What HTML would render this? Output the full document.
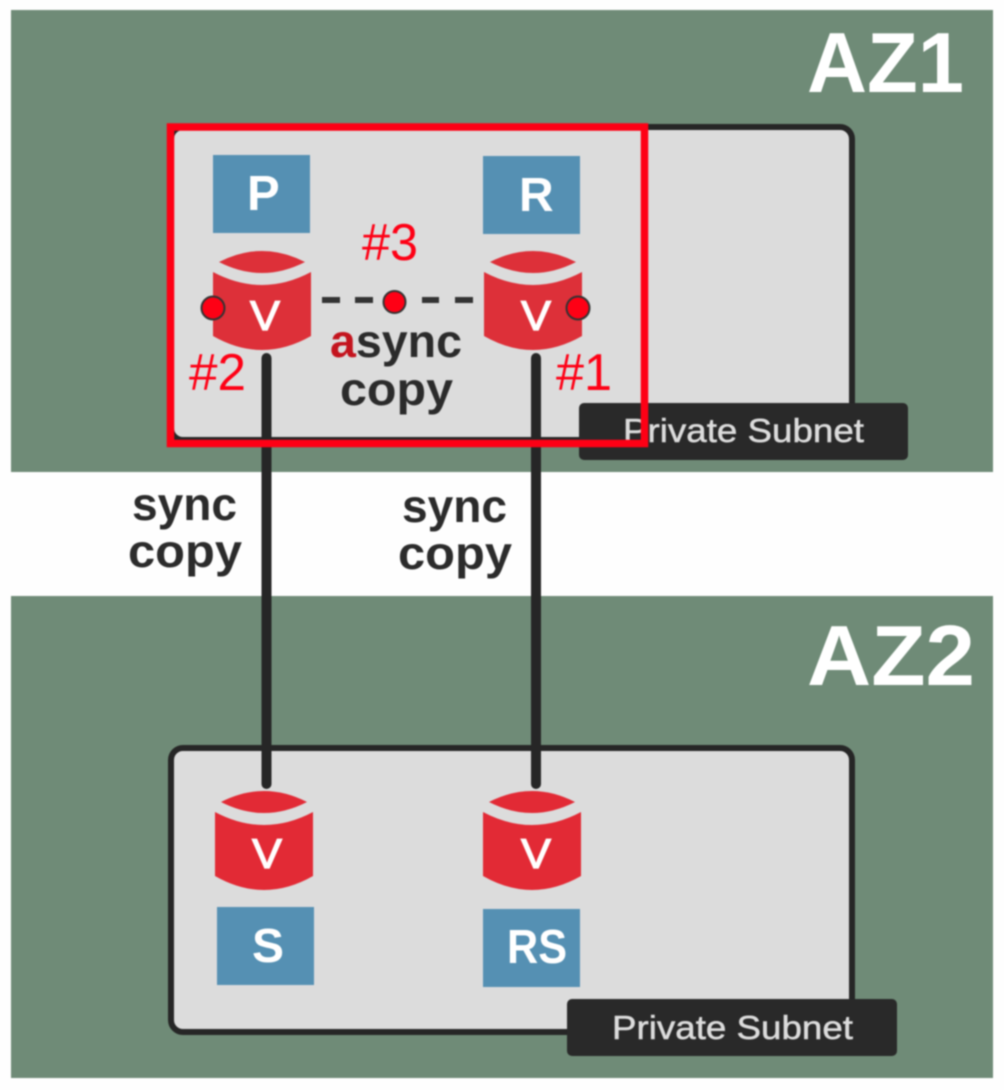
<!DOCTYPE html>
<html><head><meta charset="utf-8"><style>
html,body{margin:0;padding:0;background:#fff;width:1004px;height:1090px;overflow:hidden}
svg{display:block;filter:blur(.8px)}
text{font-family:"Liberation Sans",sans-serif}
</style></head><body>
<svg width="1004" height="1090" viewBox="0 0 1004 1090" xmlns="http://www.w3.org/2000/svg">
<defs>
<g id="cyl">
<path d="M6 12 Q49 -10 92 12 Q49 34 6 12Z"/>
<path d="M0 22 Q49 48 98 22 L98 86 Q49 114 0 86Z"/>
</g>
</defs>
<rect width="1004" height="1090" fill="#fefefe"/>
<rect x="11" y="10" width="982" height="462" fill="#6f8b77"/>
<rect x="11" y="596" width="982" height="482" fill="#6f8b77"/>

<rect x="171" y="127" width="681" height="313" rx="12" fill="#dcdcdc" stroke="#262626" stroke-width="6"/>
<rect x="171" y="748" width="681" height="284" rx="12" fill="#dcdcdc" stroke="#262626" stroke-width="6"/>

<g stroke="#262626" stroke-width="10" stroke-linecap="round">
<line x1="266.500" y1="358" x2="266.500" y2="784"/>
<line x1="536" y1="358" x2="536" y2="784"/>
</g>
<g stroke="#333" stroke-width="6">
<line x1="322" y1="300" x2="340" y2="300"/>
<line x1="355" y1="300" x2="373" y2="300"/>
<line x1="422" y1="300" x2="439" y2="300"/>
<line x1="455" y1="300" x2="473" y2="300"/>
</g>

<rect x="213" y="155" width="97" height="78" fill="#5590b3"/>
<rect x="483" y="156" width="97" height="78" fill="#5590b3"/>
<rect x="217" y="907" width="97" height="78" fill="#5590b3"/>
<rect x="483" y="909" width="97" height="78" fill="#5590b3"/>

<use href="#cyl" x="213" y="250" fill="#dd3039"/>
<use href="#cyl" x="484" y="250" fill="#dd3039"/>
<use href="#cyl" x="215" y="790" fill="#e22a35"/>
<use href="#cyl" x="483" y="790" fill="#e22a35"/>

<g fill="#fff" font-weight="bold">
<text x="247" y="210" font-size="49">P</text>
<text x="519" y="211" font-size="48">R</text>
<text x="252" y="962" font-size="48">S</text>
<text x="507" y="963" font-size="48" textLength="60" lengthAdjust="spacingAndGlyphs">RS</text>
</g>
<g fill="#fff" stroke="#fff" stroke-width="1.200" font-size="42">
<text x="250" y="330" textLength="30" lengthAdjust="spacingAndGlyphs">V</text>
<text x="521" y="330" textLength="30" lengthAdjust="spacingAndGlyphs">V</text>
<text x="252" y="868" textLength="30" lengthAdjust="spacingAndGlyphs">V</text>
<text x="521" y="868" textLength="30" lengthAdjust="spacingAndGlyphs">V</text>
</g>

<g fill="#fff" font-weight="bold" font-size="85">
<text x="807" y="92" textLength="157" lengthAdjust="spacingAndGlyphs">AZ1</text>
<text x="807" y="685" textLength="168" lengthAdjust="spacingAndGlyphs">AZ2</text>
</g>

<g fill="#2b2b2b" font-weight="bold" font-size="46">
<text x="330" y="357" textLength="132" lengthAdjust="spacingAndGlyphs"><tspan fill="#c4141e">a</tspan>sync</text>
<text x="340" y="405" textLength="113" lengthAdjust="spacingAndGlyphs">copy</text>
<text x="132" y="520" textLength="105" lengthAdjust="spacingAndGlyphs">sync</text>
<text x="128" y="567" textLength="114" lengthAdjust="spacingAndGlyphs">copy</text>
<text x="402" y="522" textLength="105" lengthAdjust="spacingAndGlyphs">sync</text>
<text x="398" y="569" textLength="114" lengthAdjust="spacingAndGlyphs">copy</text>
</g>

<rect x="579" y="403" width="329" height="57" rx="5" fill="#292929"/>
<rect x="567" y="999" width="330" height="57" rx="5" fill="#292929"/>
<g fill="#dcdcdc" stroke="#dcdcdc" stroke-width=".5" font-size="33">
<text x="623" y="442" textLength="241" lengthAdjust="spacingAndGlyphs">Private Subnet</text>
<text x="612" y="1039" textLength="241" lengthAdjust="spacingAndGlyphs">Private Subnet</text>
</g>

<rect x="170.500" y="127" width="474" height="316.500" fill="none" stroke="#fe0015" stroke-width="7.500"/>

<g fill="#fe0015" stroke="#333" stroke-width="2">
<circle cx="213" cy="308" r="11.500"/>
<circle cx="578" cy="308" r="11.500"/>
<circle cx="394.500" cy="302" r="11"/>
</g>

<g fill="#fe0015" font-size="52">
<text x="362" y="260" textLength="56" lengthAdjust="spacingAndGlyphs">#3</text>
<text x="189" y="390" textLength="57" lengthAdjust="spacingAndGlyphs">#2</text>
<text x="556" y="390" textLength="56" lengthAdjust="spacingAndGlyphs">#1</text>
</g>
</svg>
</body></html>
